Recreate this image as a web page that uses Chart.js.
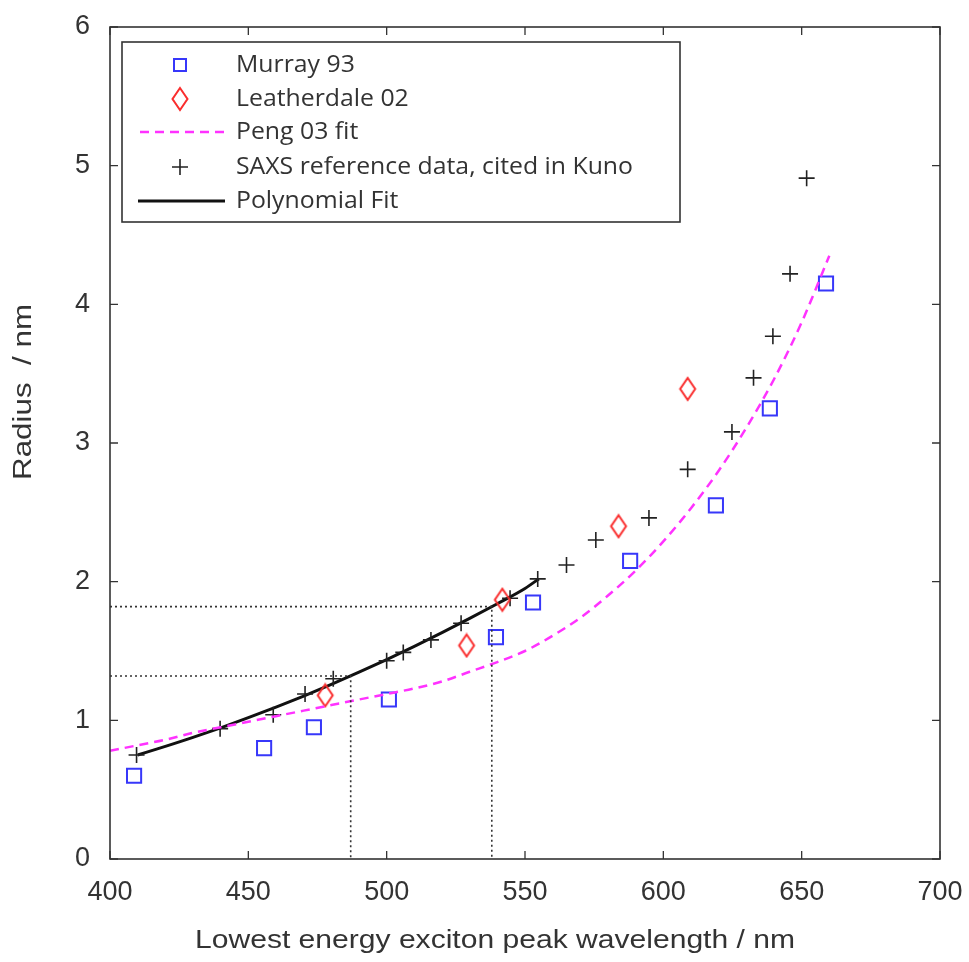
<!DOCTYPE html>
<html><head><meta charset="utf-8">
<script src="https://cdn.jsdelivr.net/npm/chart.js@4.4.0/dist/chart.umd.min.js"></script>
<style>html,body{margin:0;padding:0;background:#fff;}#wrap{width:969px;height:962px;}</style>
</head><body><div id="wrap"><canvas id="c" width="969" height="962"></canvas></div>
<script>
// ---- data ----
const murrayX = [408.7, 455.7, 473.7, 500.8, 539.5, 552.9, 588.0, 619.0, 638.5, 658.8];
const murrayY = [0.60, 0.80, 0.95, 1.15, 1.60, 1.85, 2.15, 2.55, 3.25, 4.15];
const leatherX = [477.8, 528.9, 541.8, 583.8, 608.8];
const leatherY = [1.18, 1.54, 1.87, 2.40, 3.39];
const saxsX = [409.6, 439.8, 459.0, 470.5, 480.7, 500.0, 506.0, 516.0, 526.9, 544.6, 554.6, 565.0, 575.6, 594.8, 608.8, 624.8, 632.6, 639.6, 645.8, 651.8];
const saxsY = [0.75, 0.94, 1.04, 1.19, 1.30, 1.43, 1.49, 1.58, 1.70, 1.88, 2.02, 2.12, 2.30, 2.46, 2.81, 3.08, 3.47, 3.77, 4.22, 4.91];
const pengX = [400, 410, 420, 430, 440, 450, 460, 470, 480, 490, 500, 510, 520, 530, 540, 550, 560, 570, 580, 590, 600, 610, 620, 630, 640, 650, 660];
const pengY = [0.78, 0.82, 0.86, 0.91, 0.95, 0.99, 1.03, 1.07, 1.11, 1.15, 1.19, 1.23, 1.28, 1.35, 1.42, 1.50, 1.61, 1.74, 1.90, 2.08, 2.29, 2.53, 2.80, 3.11, 3.46, 3.87, 4.35];
const polyX = [410, 420, 430, 440, 450, 460, 470, 480, 490, 500, 510, 520, 530, 540, 550, 555];
const polyY = [0.75, 0.812, 0.877, 0.946, 1.019, 1.095, 1.175, 1.259, 1.347, 1.438, 1.533, 1.632, 1.735, 1.841, 1.951, 2.02];
const guideAX = [400, 487, 487];
const guideAY = [1.32, 1.32, 0];
const guideBX = [400, 538, 538];
const guideBY = [1.82, 1.82, 0];
const xTicks = [400, 450, 500, 550, 600, 650, 700];
const yTicks = [0, 1, 2, 3, 4, 5, 6];
const legendLabels = ['Murray 93', 'Leatherdale 02', 'Peng 03 fit', 'SAXS reference data, cited in Kuno', 'Polynomial Fit'];
const xTitle = 'Lowest energy exciton peak wavelength / nm';
const yTitle = 'Radius  / nm';

const pts = (xs, ys) => xs.map((x, i) => ({x: x, y: ys[i]}));

const BLUE = 'rgb(55,55,250)', RED = 'rgb(250,45,45)', MAG = 'rgb(255,50,255)', DARK = '#222';

// diamond marker image (taller than wide)
const diamond = document.createElement('canvas');
diamond.width = 20; diamond.height = 26;
(function () {
  const g = diamond.getContext('2d');
  g.strokeStyle = RED; g.lineWidth = 2;
  g.beginPath(); g.moveTo(10, 2); g.lineTo(17.5, 13); g.lineTo(10, 24); g.lineTo(2.5, 13); g.closePath(); g.stroke();
})();

const FONT = '"Liberation Sans", Arial, sans-serif';

function fitText(ctx, text, x, y, w, rot) {
  ctx.save();
  ctx.translate(x, y);
  if (rot) ctx.rotate(rot);
  const m = ctx.measureText(text).width;
  ctx.scale(w / m, 1);
  ctx.fillText(text, 0, 0);
  ctx.restore();
}

const framePlugin = {
  id: 'frame',
  afterDatasetsDraw(chart) {
    const {ctx, chartArea: a, scales} = chart;
    ctx.save();
    ctx.strokeStyle = '#333'; ctx.lineWidth = 1.6;
    ctx.strokeRect(a.left, a.top, a.right - a.left, a.bottom - a.top);
    ctx.lineWidth = 1.3;
    ctx.beginPath();
    xTicks.forEach(v => { const p = scales.x.getPixelForValue(v); ctx.moveTo(p, a.bottom); ctx.lineTo(p, a.bottom - 8); ctx.moveTo(p, a.top); ctx.lineTo(p, a.top + 8); });
    yTicks.forEach(v => { const p = scales.y.getPixelForValue(v); ctx.moveTo(a.left, p); ctx.lineTo(a.left + 8, p); ctx.moveTo(a.right, p); ctx.lineTo(a.right - 8, p); });
    ctx.stroke();
    // axis titles
    ctx.fillStyle = '#333';
    ctx.font = '26px ' + FONT;
    ctx.textAlign = 'left'; ctx.textBaseline = 'middle';
    fitText(ctx, xTitle, 195, 941, 600, 0);
    fitText(ctx, yTitle, 24, 480, 176, -Math.PI / 2);
    ctx.restore();
  },
  afterDraw(chart) {
    const ctx = chart.ctx;
    const bx = 122, by = 42, bw = 558, bh = 180;
    ctx.save();
    ctx.fillStyle = '#fff';
    ctx.fillRect(bx, by, bw, bh);
    ctx.strokeStyle = '#333'; ctx.lineWidth = 1.6;
    ctx.strokeRect(bx, by, bw, bh);
    const rows = [65, 99, 132, 167, 201];
    const mx = 180;
    // markers
    ctx.strokeStyle = BLUE; ctx.lineWidth = 2;
    ctx.strokeRect(mx - 6, rows[0] - 6, 12, 12);
    ctx.drawImage(diamond, mx - 10, rows[1] - 13);
    ctx.strokeStyle = MAG; ctx.lineWidth = 2.5; ctx.setLineDash([9, 6]);
    ctx.beginPath(); ctx.moveTo(140, rows[2]); ctx.lineTo(225, rows[2]); ctx.stroke();
    ctx.setLineDash([]);
    ctx.strokeStyle = DARK; ctx.lineWidth = 1.6;
    ctx.beginPath(); ctx.moveTo(mx - 8, rows[3]); ctx.lineTo(mx + 8, rows[3]); ctx.moveTo(mx, rows[3] - 8); ctx.lineTo(mx, rows[3] + 8); ctx.stroke();
    ctx.strokeStyle = '#111'; ctx.lineWidth = 3;
    ctx.beginPath(); ctx.moveTo(138, rows[4]); ctx.lineTo(225, rows[4]); ctx.stroke();
    // labels
    ctx.fillStyle = '#333';
    ctx.font = '24px "Open Sans", sans-serif';
    ctx.textAlign = 'left'; ctx.textBaseline = 'middle';
    const ref = ctx.measureText(legendLabels[3]).width;
    const k = 397 / ref;
    legendLabels.forEach((t, i) => {
      ctx.save(); ctx.translate(236, rows[i]); ctx.scale(k, 1); ctx.fillText(t, 0, 0); ctx.restore();
    });
    ctx.restore();
  }
};

new Chart(document.getElementById('c'), {
  type: 'scatter',
  data: {
    datasets: [
      {label: 'guideA', type: 'line', data: pts(guideAX, guideAY), borderColor: '#333', borderWidth: 1.6, borderDash: [2, 3], pointRadius: 0, fill: false, tension: 0},
      {label: 'guideB', type: 'line', data: pts(guideBX, guideBY), borderColor: '#333', borderWidth: 1.6, borderDash: [2, 3], pointRadius: 0, fill: false, tension: 0},
      {label: legendLabels[2], type: 'line', data: pts(pengX, pengY), borderColor: MAG, borderWidth: 2.5, borderDash: [9, 6], pointRadius: 0, fill: false, cubicInterpolationMode: 'monotone'},
      {label: legendLabels[0], data: pts(murrayX, murrayY), pointStyle: 'rect', pointRadius: 10, borderColor: BLUE, backgroundColor: 'rgba(0,0,0,0)', pointBorderWidth: 2},
      {label: legendLabels[1], data: pts(leatherX, leatherY), pointStyle: diamond, pointRadius: 10, borderColor: RED, backgroundColor: 'rgba(0,0,0,0)'},
      {label: legendLabels[3], data: pts(saxsX, saxsY), pointStyle: 'cross', pointRadius: 8, borderColor: DARK, pointBorderWidth: 1.6},
      {label: legendLabels[4], type: 'line', data: pts(polyX, polyY), borderColor: '#111', borderWidth: 3, pointRadius: 0, fill: false, cubicInterpolationMode: 'monotone'}
    ]
  },
  options: {
    responsive: false,
    animation: false,
    layout: {padding: {top: 27, right: 29, left: 0, bottom: 0}},
    plugins: {legend: {display: false}, tooltip: {enabled: false}},
    scales: {
      x: {
        type: 'linear', min: 400, max: 700,
        afterFit: s => { s.height = 103; s.paddingLeft = 0; s.paddingRight = 0; },
        afterBuildTicks: s => { s.ticks = xTicks.map(v => ({value: v})); },
        grid: {display: false, drawTicks: false},
        border: {display: false},
        ticks: {padding: 17, color: '#333', font: {family: FONT, size: 27}}
      },
      y: {
        type: 'linear', min: 0, max: 6,
        afterFit: s => { s.width = 110; s.paddingTop = 0; s.paddingBottom = 0; },
        afterBuildTicks: s => { s.ticks = yTicks.map(v => ({value: v})); },
        grid: {display: false, drawTicks: false},
        border: {display: false},
        ticks: {padding: 20, color: '#333', font: {family: FONT, size: 27}}
      }
    }
  },
  plugins: [framePlugin]
});
</script>
</body></html>
